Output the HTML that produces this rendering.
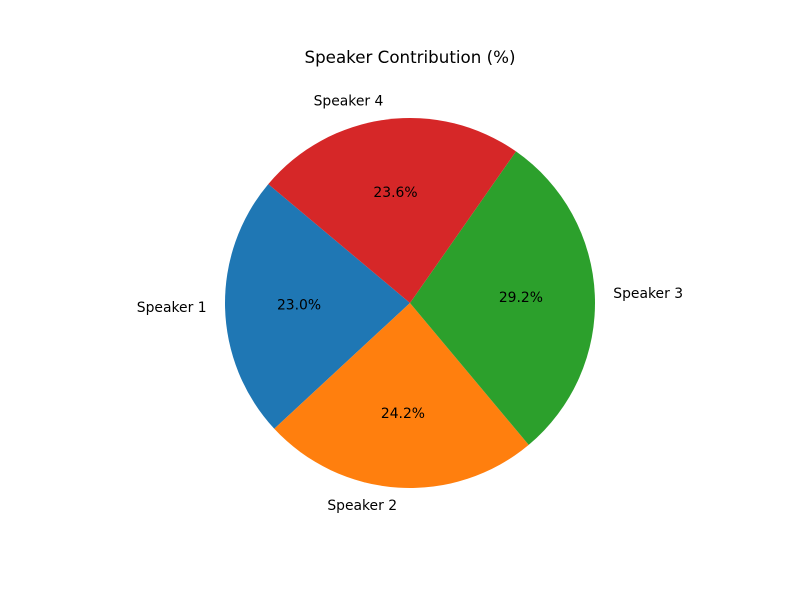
<!DOCTYPE html>
<html>
<head>
<meta charset="utf-8">
<style>
  html,body{margin:0;padding:0;background:#fff;}
  svg{display:block;font-family:"DejaVu Sans","Liberation Sans",sans-serif;}
</style>
</head>
<body>
<svg id="chart" width="800" height="600" viewBox="0 0 800 600">
  <text x="410" y="63" text-anchor="middle" font-size="16.7" fill="#000">Speaker Contribution (%)</text>
  <g id="wedges"></g>
  <g id="labels"></g>
</svg>
<script>
const categories = ["Speaker 1", "Speaker 2", "Speaker 3", "Speaker 4"];
const values = [23.0, 24.2, 29.2, 23.6];
const colors = ["#1f77b4", "#ff7f0e", "#2ca02c", "#d62728"];

const cx = 410, cy = 303, r = 185, startAngle = 140;
const NS = "http://www.w3.org/2000/svg";
const wedgeG = document.getElementById("wedges");
const labelG = document.getElementById("labels");
const total = values.reduce((a, b) => a + b, 0);
function pt(deg, rad) {
  const a = deg * Math.PI / 180;
  return [cx + rad * Math.cos(a), cy - rad * Math.sin(a)];
}
let ang = startAngle;
values.forEach((v, i) => {
  const sweep = v / total * 360;
  const a0 = ang, a1 = ang + sweep;
  const [x0, y0] = pt(a0, r), [x1, y1] = pt(a1, r);
  const large = sweep > 180 ? 1 : 0;
  const p = document.createElementNS(NS, "path");
  p.setAttribute("d", `M${cx},${cy} L${x0},${y0} A${r},${r} 0 ${large} 0 ${x1},${y1} Z`);
  p.setAttribute("fill", colors[i]);
  
  
  wedgeG.appendChild(p);

  const mid = (a0 + a1) / 2;
  const [lx, ly] = pt(mid, r * 1.1);
  const cosm = Math.cos(mid * Math.PI / 180);
  const t = document.createElementNS(NS, "text");
  t.setAttribute("x", lx);
  t.setAttribute("y", ly + 4);
  t.setAttribute("font-size", "13.9");
  t.setAttribute("text-anchor", cosm > 0 ? "start" : "end");
  t.textContent = categories[i];
  
  
  labelG.appendChild(t);

  const [px, py] = pt(mid, r * 0.6);
  const pc = document.createElementNS(NS, "text");
  pc.setAttribute("x", px);
  pc.setAttribute("y", py + 4);
  pc.setAttribute("font-size", "13.9");
  pc.setAttribute("text-anchor", "middle");
  pc.textContent = (v / total * 100).toFixed(1) + "%";
  
  
  labelG.appendChild(pc);

  ang = a1;
});
</script>
</body>
</html>
